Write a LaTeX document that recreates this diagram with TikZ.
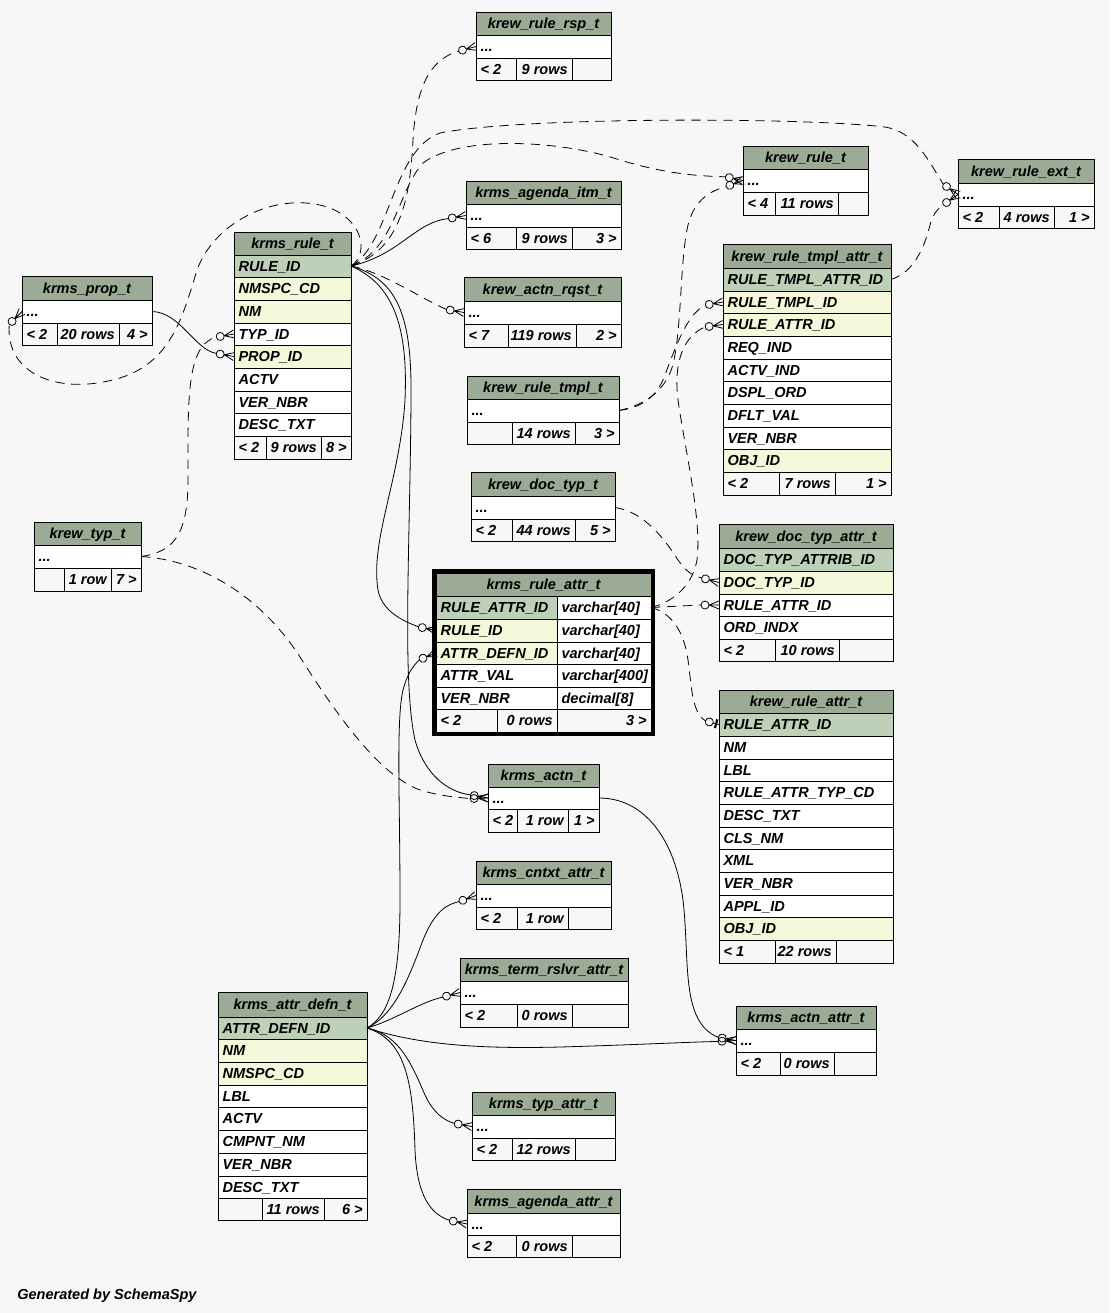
\documentclass[tikz,border=0pt]{standalone}
\usepackage{fontspec}
\setmainfont{Liberation Sans}
\definecolor{bgc}{HTML}{F7F7F7}
\definecolor{hdrc}{HTML}{9BAB96}
\definecolor{pkc}{HTML}{BED1B8}
\definecolor{idxc}{HTML}{F4F7DA}
\definecolor{ftc}{HTML}{F7F7F7}
\tikzset{
 cellbox/.style={draw=black, line width=0.7pt, inner sep=0pt, outer sep=0pt, anchor=north west},
 txt/.style={font=\fontsize{10.9pt}{12pt}\selectfont\bfseries\itshape, inner sep=0pt, text height=7.8pt, text depth=0pt},
 fk/.style={draw=black, line width=0.6pt},
 fkd/.style={fk, dash pattern=on 7pt off 5pt},
 crowline/.style={draw=black, line width=0.6pt, solid}
}
\newcommand\tabhd[6]{%
 \node[cellbox, fill=hdrc, minimum width={(#4-#2)*0.75pt}, minimum height={(#5-#3)*0.75pt}] (#1) at (#2,#3) {};
 \node[txt] (#1-t) at (#1.center) {#6};}
\newcommand\tabrw[7]{%
 \node[cellbox, fill=#6, minimum width={(#4-#2)*0.75pt}, minimum height={(#5-#3)*0.75pt}] (#1) at (#2,#3) {};
 \node[txt, anchor=west] (#1-t) at ([xshift=3.2pt]#1.west) {#7};}
\newcommand\tabrr[7]{%
 \node[cellbox, fill=#6, minimum width={(#4-#2)*0.75pt}, minimum height={(#5-#3)*0.75pt}] (#1) at (#2,#3) {};
 \node[txt, anchor=east] (#1-t) at ([xshift=-3pt]#1.east) {#7};}
\newcommand\crowodot[3]{%
 \begin{scope}[shift={#2},rotate=#3]
  \draw[crowline] (-10,0) -- (0,-4) (-10,0) -- (0,0) (-10,0) -- (0,4);
  \draw[crowline] (-14,0) circle[radius=4];
  \coordinate (#1) at (-18,0);
 \end{scope}}
\newcommand\teeodot[3]{%
 \begin{scope}[shift={#2},rotate=#3]
  \draw[crowline, line width=1.6pt] (-3,-4.5) -- (-3,4.5);
  \draw[crowline] (0,0) -- (-6,0) (-10,0) circle[radius=4];
  \coordinate (#1) at (-14,0);
 \end{scope}}
\begin{document}
\begin{tikzpicture}[x=0.75pt,y=-0.75pt]
\fill[bgc] (0,0) rectangle (1110,1313);

% krew_rule_rsp_t
\tabhd{rsp}{476}{12}{611}{35}{krew\_rule\_rsp\_t}
\tabrw{rsp-c}{476}{35}{611}{58}{white}{...}
\tabrw{rsp-f1}{476}{58}{516}{80}{ftc}{< 2}
\tabrr{rsp-f2}{516}{58}{572}{80}{ftc}{9 rows}
\tabrr{rsp-f3}{572}{58}{611}{80}{ftc}{}
% krms_agenda_itm_t
\tabhd{agi}{466}{181}{621}{204}{krms\_agenda\_itm\_t}
\tabrw{agi-c}{466}{204}{621}{227}{white}{...}
\tabrw{agi-f1}{466}{227}{516}{249}{ftc}{< 6}
\tabrr{agi-f2}{516}{227}{572}{249}{ftc}{9 rows}
\tabrr{agi-f3}{572}{227}{621}{249}{ftc}{3 >}
% krew_actn_rqst_t
\tabhd{arq}{464}{277}{621}{301}{krew\_actn\_rqst\_t}
\tabrw{arq-c}{464}{301}{621}{324}{white}{...}
\tabrw{arq-f1}{464}{324}{508}{347}{ftc}{< 7}
\tabrr{arq-f2}{508}{324}{576}{347}{ftc}{119 rows}
\tabrr{arq-f3}{576}{324}{621}{347}{ftc}{2 >}
% krew_rule_tmpl_t
\tabhd{rtm}{467}{376}{619}{399}{krew\_rule\_tmpl\_t}
\tabrw{rtm-c}{467}{399}{619}{422}{white}{...}
\tabrw{rtm-f1}{467}{422}{512}{444}{ftc}{}
\tabrr{rtm-f2}{512}{422}{575}{444}{ftc}{14 rows}
\tabrr{rtm-f3}{575}{422}{619}{444}{ftc}{3 >}
% krew_doc_typ_t
\tabhd{dtp}{471}{472}{615}{496}{krew\_doc\_typ\_t}
\tabrw{dtp-c}{471}{496}{615}{519}{white}{...}
\tabrw{dtp-f1}{471}{519}{512}{541}{ftc}{< 2}
\tabrr{dtp-f2}{512}{519}{575}{541}{ftc}{44 rows}
\tabrr{dtp-f3}{575}{519}{615}{541}{ftc}{5 >}
% krew_rule_t
\tabhd{krt}{743}{146}{868}{169}{krew\_rule\_t}
\tabrw{krt-c}{743}{169}{868}{192}{white}{...}
\tabrw{krt-f1}{743}{192}{775}{215}{ftc}{< 4}
\tabrr{krt-f2}{775}{192}{838}{215}{ftc}{11 rows}
\tabrr{krt-f3}{838}{192}{868}{215}{ftc}{}
% krew_rule_ext_t
\tabhd{rex}{958}{159}{1094}{183}{krew\_rule\_ext\_t}
\tabrw{rex-c}{958}{183}{1094}{206}{white}{...}
\tabrw{rex-f1}{958}{206}{999}{228}{ftc}{< 2}
\tabrr{rex-f2}{999}{206}{1054}{228}{ftc}{4 rows}
\tabrr{rex-f3}{1054}{206}{1094}{228}{ftc}{1 >}
% krew_rule_tmpl_attr_t
\tabhd{rta}{723}{244}{891}{268}{krew\_rule\_tmpl\_attr\_t}
\tabrw{rta-1}{723}{268}{891}{291}{pkc}{RULE\_TMPL\_ATTR\_ID}
\tabrw{rta-2}{723}{291}{891}{313}{idxc}{RULE\_TMPL\_ID}
\tabrw{rta-3}{723}{313}{891}{336}{idxc}{RULE\_ATTR\_ID}
\tabrw{rta-4}{723}{336}{891}{359}{white}{REQ\_IND}
\tabrw{rta-5}{723}{359}{891}{381}{white}{ACTV\_IND}
\tabrw{rta-6}{723}{381}{891}{404}{white}{DSPL\_ORD}
\tabrw{rta-7}{723}{404}{891}{427}{white}{DFLT\_VAL}
\tabrw{rta-8}{723}{427}{891}{449}{white}{VER\_NBR}
\tabrw{rta-9}{723}{449}{891}{472}{idxc}{OBJ\_ID}
\tabrw{rta-f1}{723}{472}{779}{495}{ftc}{< 2}
\tabrr{rta-f2}{779}{472}{835}{495}{ftc}{7 rows}
\tabrr{rta-f3}{835}{472}{891}{495}{ftc}{1 >}
% krms_prop_t
\tabhd{prp}{22}{276}{152}{300}{krms\_prop\_t}
\tabrw{prp-c}{22}{300}{152}{323}{white}{...}
\tabrw{prp-f1}{22}{323}{57}{345}{ftc}{< 2}
\tabrr{prp-f2}{57}{323}{119}{345}{ftc}{20 rows}
\tabrr{prp-f3}{119}{323}{152}{345}{ftc}{4 >}
% krms_rule_t
\tabhd{kru}{234}{232}{351}{255}{krms\_rule\_t}
\tabrw{kru-1}{234}{255}{351}{277}{pkc}{RULE\_ID}
\tabrw{kru-2}{234}{277}{351}{300}{idxc}{NMSPC\_CD}
\tabrw{kru-3}{234}{300}{351}{323}{idxc}{NM}
\tabrw{kru-4}{234}{323}{351}{345}{white}{TYP\_ID}
\tabrw{kru-5}{234}{345}{351}{368}{idxc}{PROP\_ID}
\tabrw{kru-6}{234}{368}{351}{391}{white}{ACTV}
\tabrw{kru-7}{234}{391}{351}{413}{white}{VER\_NBR}
\tabrw{kru-8}{234}{413}{351}{436}{white}{DESC\_TXT}
\tabrw{kru-f1}{234}{436}{266}{459}{ftc}{< 2}
\tabrr{kru-f2}{266}{436}{321}{459}{ftc}{9 rows}
\tabrr{kru-f3}{321}{436}{351}{459}{ftc}{8 >}
% krew_typ_t
\tabhd{kty}{34}{522}{141}{545}{krew\_typ\_t}
\tabrw{kty-c}{34}{545}{141}{568}{white}{...}
\tabrw{kty-f1}{34}{568}{64}{591}{ftc}{}
\tabrr{kty-f2}{64}{568}{111}{591}{ftc}{1 row}
\tabrr{kty-f3}{111}{568}{141}{591}{ftc}{7 >}
% krms_rule_attr_t
\tabhd{kra}{436}{573}{651}{596}{krms\_rule\_attr\_t}
\tabrw{kra-1}{436}{596}{557}{619}{pkc}{RULE\_ATTR\_ID}
\tabrw{kra-1t}{557}{596}{651}{619}{white}{varchar[40]}
\tabrw{kra-2}{436}{619}{557}{642}{idxc}{RULE\_ID}
\tabrw{kra-2t}{557}{619}{651}{642}{white}{varchar[40]}
\tabrw{kra-3}{436}{642}{557}{664}{idxc}{ATTR\_DEFN\_ID}
\tabrw{kra-3t}{557}{642}{651}{664}{white}{varchar[40]}
\tabrw{kra-4}{436}{664}{557}{687}{white}{ATTR\_VAL}
\tabrw{kra-4t}{557}{664}{651}{687}{white}{varchar[400]}
\tabrw{kra-5}{436}{687}{557}{709}{white}{VER\_NBR}
\tabrw{kra-5t}{557}{687}{651}{709}{white}{decimal[8]}
\tabrw{kra-f1}{436}{709}{497}{732}{ftc}{< 2}
\tabrr{kra-f2}{497}{709}{557}{732}{ftc}{0 rows}
\tabrr{kra-f3}{557}{709}{651}{732}{ftc}{3 >}
% krew_doc_typ_attr_t
\tabhd{dta}{719}{524}{893}{548}{krew\_doc\_typ\_attr\_t}
\tabrw{dta-1}{719}{548}{893}{571}{pkc}{DOC\_TYP\_ATTRIB\_ID}
\tabrw{dta-2}{719}{571}{893}{594}{idxc}{DOC\_TYP\_ID}
\tabrw{dta-3}{719}{594}{893}{616}{white}{RULE\_ATTR\_ID}
\tabrw{dta-4}{719}{616}{893}{639}{white}{ORD\_INDX}
\tabrw{dta-f1}{719}{639}{775}{661}{ftc}{< 2}
\tabrr{dta-f2}{775}{639}{839}{661}{ftc}{10 rows}
\tabrr{dta-f3}{839}{639}{893}{661}{ftc}{}
% krew_rule_attr_t
\tabhd{kwa}{719}{690}{893}{713}{krew\_rule\_attr\_t}
\tabrw{kwa-1}{719}{713}{893}{736}{pkc}{RULE\_ATTR\_ID}
\tabrw{kwa-2}{719}{736}{893}{759}{white}{NM}
\tabrw{kwa-3}{719}{759}{893}{781}{white}{LBL}
\tabrw{kwa-4}{719}{781}{893}{804}{white}{RULE\_ATTR\_TYP\_CD}
\tabrw{kwa-5}{719}{804}{893}{827}{white}{DESC\_TXT}
\tabrw{kwa-6}{719}{827}{893}{849}{white}{CLS\_NM}
\tabrw{kwa-7}{719}{849}{893}{872}{white}{XML}
\tabrw{kwa-8}{719}{872}{893}{895}{white}{VER\_NBR}
\tabrw{kwa-9}{719}{895}{893}{917}{white}{APPL\_ID}
\tabrw{kwa-10}{719}{917}{893}{940}{idxc}{OBJ\_ID}
\tabrw{kwa-f1}{719}{940}{775}{963}{ftc}{< 1}
\tabrr{kwa-f2}{775}{940}{836}{963}{ftc}{22 rows}
\tabrr{kwa-f3}{836}{940}{893}{963}{ftc}{}
% krms_actn_t
\tabhd{act}{488}{764}{599}{787}{krms\_actn\_t}
\tabrw{act-c}{488}{787}{599}{809}{white}{...}
\tabrw{act-f1}{488}{809}{517}{832}{ftc}{< 2}
\tabrr{act-f2}{517}{809}{568}{832}{ftc}{1 row}
\tabrr{act-f3}{568}{809}{599}{832}{ftc}{1 >}
% krms_cntxt_attr_t
\tabhd{cxa}{476}{861}{611}{884}{krms\_cntxt\_attr\_t}
\tabrw{cxa-c}{476}{884}{611}{907}{white}{...}
\tabrw{cxa-f1}{476}{907}{517}{929}{ftc}{< 2}
\tabrr{cxa-f2}{517}{907}{568}{929}{ftc}{1 row}
\tabrr{cxa-f3}{568}{907}{611}{929}{ftc}{}
% krms_term_rslvr_attr_t
\tabhd{tra}{460}{958}{628}{981}{krms\_term\_rslvr\_attr\_t}
\tabrw{tra-c}{460}{981}{628}{1004}{white}{...}
\tabrw{tra-f1}{460}{1004}{517}{1027}{ftc}{< 2}
\tabrr{tra-f2}{517}{1004}{572}{1027}{ftc}{0 rows}
\tabrr{tra-f3}{572}{1004}{628}{1027}{ftc}{}
% krms_actn_attr_t
\tabhd{aca}{736}{1006}{876}{1029}{krms\_actn\_attr\_t}
\tabrw{aca-c}{736}{1029}{876}{1052}{white}{...}
\tabrw{aca-f1}{736}{1052}{780}{1075}{ftc}{< 2}
\tabrr{aca-f2}{780}{1052}{834}{1075}{ftc}{0 rows}
\tabrr{aca-f3}{834}{1052}{876}{1075}{ftc}{}
% krms_attr_defn_t
\tabhd{adf}{218}{992}{367}{1017}{krms\_attr\_defn\_t}
\tabrw{adf-1}{218}{1017}{367}{1039}{pkc}{ATTR\_DEFN\_ID}
\tabrw{adf-2}{218}{1039}{367}{1062}{idxc}{NM}
\tabrw{adf-3}{218}{1062}{367}{1085}{idxc}{NMSPC\_CD}
\tabrw{adf-4}{218}{1085}{367}{1107}{white}{LBL}
\tabrw{adf-5}{218}{1107}{367}{1130}{white}{ACTV}
\tabrw{adf-6}{218}{1130}{367}{1153}{white}{CMPNT\_NM}
\tabrw{adf-7}{218}{1153}{367}{1176}{white}{VER\_NBR}
\tabrw{adf-8}{218}{1176}{367}{1198}{white}{DESC\_TXT}
\tabrw{adf-f1}{218}{1198}{262}{1220}{ftc}{}
\tabrr{adf-f2}{262}{1198}{324}{1220}{ftc}{11 rows}
\tabrr{adf-f3}{324}{1198}{367}{1220}{ftc}{6 >}
% krms_typ_attr_t
\tabhd{tya}{472}{1092}{615}{1115}{krms\_typ\_attr\_t}
\tabrw{tya-c}{472}{1115}{615}{1138}{white}{...}
\tabrw{tya-f1}{472}{1138}{512}{1160}{ftc}{< 2}
\tabrr{tya-f2}{512}{1138}{575}{1160}{ftc}{12 rows}
\tabrr{tya-f3}{575}{1138}{615}{1160}{ftc}{}
% krms_agenda_attr_t
\tabhd{aga}{467}{1189}{620}{1213}{krms\_agenda\_attr\_t}
\tabrw{aga-c}{467}{1213}{620}{1235}{white}{...}
\tabrw{aga-f1}{467}{1235}{516}{1257}{ftc}{< 2}
\tabrr{aga-f2}{516}{1235}{572}{1257}{ftc}{0 rows}
\tabrr{aga-f3}{572}{1235}{620}{1257}{ftc}{}

% focal table border
\draw[line width=3pt] (434,571) rectangle (653,734);

% arrow ends
\crowodot{rsp-tip}{(rsp-c.west)}{15}
\crowodot{krt-tipA}{(krt-c.west)}{-12}
\crowodot{krt-tipB}{(krt-c.west)}{20}
\crowodot{rex-tipA}{(rex-c.west)}{-35}
\crowodot{rex-tipB}{(rex-c.west)}{35}
\crowodot{agi-tip}{(agi-c.west)}{10}
\crowodot{arq-tip}{(arq-c.west)}{-10}
\crowodot{kra2-tip}{(kra-2.west)}{-12}
\crowodot{kra3-tip}{(kra-3.west)}{22}
\crowodot{act-tipA}{(act-c.west)}{-10}
\crowodot{act-tipB}{(act-c.west)}{2}
\crowodot{kru4-tip}{(kru-4.west)}{10}
\crowodot{kru5-tip}{(kru-5.west)}{-10}
\crowodot{prp-tip}{(prp-c.west)}{45}
\crowodot{rta2-tip}{(rta-2.west)}{10}
\crowodot{rta3-tip}{(rta-3.west)}{8}
\crowodot{dta3-tip}{(dta-3.west)}{0}
\crowodot{dta2-tip}{(dta-2.west)}{-15}
\teeodot{kwa-tip}{(kwa-1.west)}{-15}
\crowodot{cxa-tip}{(cxa-c.west)}{20}
\crowodot{tra-tip}{(tra-c.west)}{15}
\crowodot{aca-tipA}{(aca-c.west)}{3}
\crowodot{aca-tipB}{(aca-c.west)}{-10}
\crowodot{tya-tip}{(tya-c.west)}{-10}
\crowodot{aga-tip}{(aga-c.west)}{-12}

% connectors from krms_rule_t.RULE_ID
\draw[fkd] (kru-1.east) .. controls (400,250) and (410,200) .. (413,140) .. controls (416,90) and (428,60) .. (rsp-tip);
\draw[fkd] (kru-1.east) .. controls (395,250) and (398,190) .. (423,163) .. controls (460,135) and (560,140) .. (620,160) .. controls (660,172) and (690,176) .. (krt-tipA);
\draw[fkd] (kru-1.east) .. controls (390,245) and (392,150) .. (440,133) .. controls (520,117) and (800,117) .. (885,127) .. controls (915,132) and (928,160) .. (rex-tipA);
\draw[fk] (kru-1.east) .. controls (400,255) and (415,222) .. (agi-tip);
\draw[fkd] (kru-1.east) .. controls (385,273) and (420,298) .. (arq-tip);
\draw[fk] (kru-1.east) .. controls (395,285) and (408,330) .. (405,400) .. controls (400,480) and (370,540) .. (378,590) .. controls (382,610) and (400,620) .. (kra2-tip);
\draw[fk] (kru-1.east) .. controls (400,280) and (412,320) .. (411,400) .. controls (410,550) and (402,680) .. (415,740) .. controls (425,775) and (448,792) .. (act-tipA);
\draw[fkd] (kru-1.east) .. controls (368,255) and (365,222) .. (330,208) .. controls (280,190) and (215,220) .. (197,270) .. controls (182,320) and (170,362) .. (120,378) .. controls (60,396) and (5,375) .. (prp-tip);
% other connectors
\draw[fkd] (rta-1.east) .. controls (915,272) and (925,245) .. (930,225) .. controls (933,215) and (936,210) .. (rex-tipB);
\draw[fkd] (kty-c.east) .. controls (170,552) and (188,540) .. (188,480) .. controls (188,400) and (186,345) .. (kru4-tip);
\draw[fk] (prp-c.east) .. controls (180,312) and (195,350) .. (kru5-tip);
\draw[fkd] (kty-c.east) .. controls (200,560) and (260,595) .. (300,657) .. controls (340,720) and (380,775) .. (420,790) .. controls (440,796) and (455,797) .. (act-tipB);
\draw[fkd] (rtm-c.east) .. controls (640,408) and (655,398) .. (663,380) .. controls (673,355) and (685,315) .. (rta2-tip);
\draw[fkd] (rtm-c.east) .. controls (645,405) and (668,390) .. (674,360) .. controls (682,320) and (680,260) .. (688,225) .. controls (693,205) and (705,192) .. (krt-tipB);
\draw[fkd] (kra-1t.east) .. controls (670,603) and (692,588) .. (697,560) .. controls (702,520) and (685,450) .. (678,400) .. controls (673,360) and (685,335) .. (rta3-tip);
\draw[fkd] (kra-1t.east) -- (dta3-tip);
\draw[fkd] (kra-1t.east) .. controls (670,612) and (684,630) .. (688,660) .. controls (692,690) and (692,712) .. (kwa-tip);
\draw[fkd] (dtp-c.east) .. controls (645,512) and (665,540) .. (678,560) .. controls (686,571) and (692,576) .. (dta2-tip);
% connectors from krms_attr_defn_t.ATTR_DEFN_ID
\draw[fk] (adf-1.east) .. controls (390,1015) and (400,980) .. (400,900) .. controls (400,800) and (396,720) .. (403,690) .. controls (407,675) and (412,667) .. (kra3-tip);
\draw[fk] (adf-1.east) .. controls (395,1015) and (410,975) .. (423,940) .. controls (435,910) and (448,904) .. (cxa-tip);
\draw[fk] (adf-1.east) .. controls (395,1020) and (420,1002) .. (tra-tip);
\draw[fk] (adf-1.east) .. controls (420,1045) and (480,1049) .. (560,1047) .. controls (630,1045) and (690,1042) .. (aca-tipA);
\draw[fk] (adf-1.east) .. controls (400,1035) and (412,1065) .. (425,1095) .. controls (433,1112) and (443,1120) .. (tya-tip);
\draw[fk] (adf-1.east) .. controls (405,1040) and (413,1080) .. (415,1150) .. controls (417,1195) and (430,1214) .. (aga-tip);
\draw[fk] (act-c.east) .. controls (645,798) and (675,840) .. (683,900) .. controls (690,960) and (680,1022) .. (aca-tipB);

\node[txt, anchor=west] (gen) at (17,1294) {Generated by SchemaSpy};
\end{tikzpicture}
\end{document}
